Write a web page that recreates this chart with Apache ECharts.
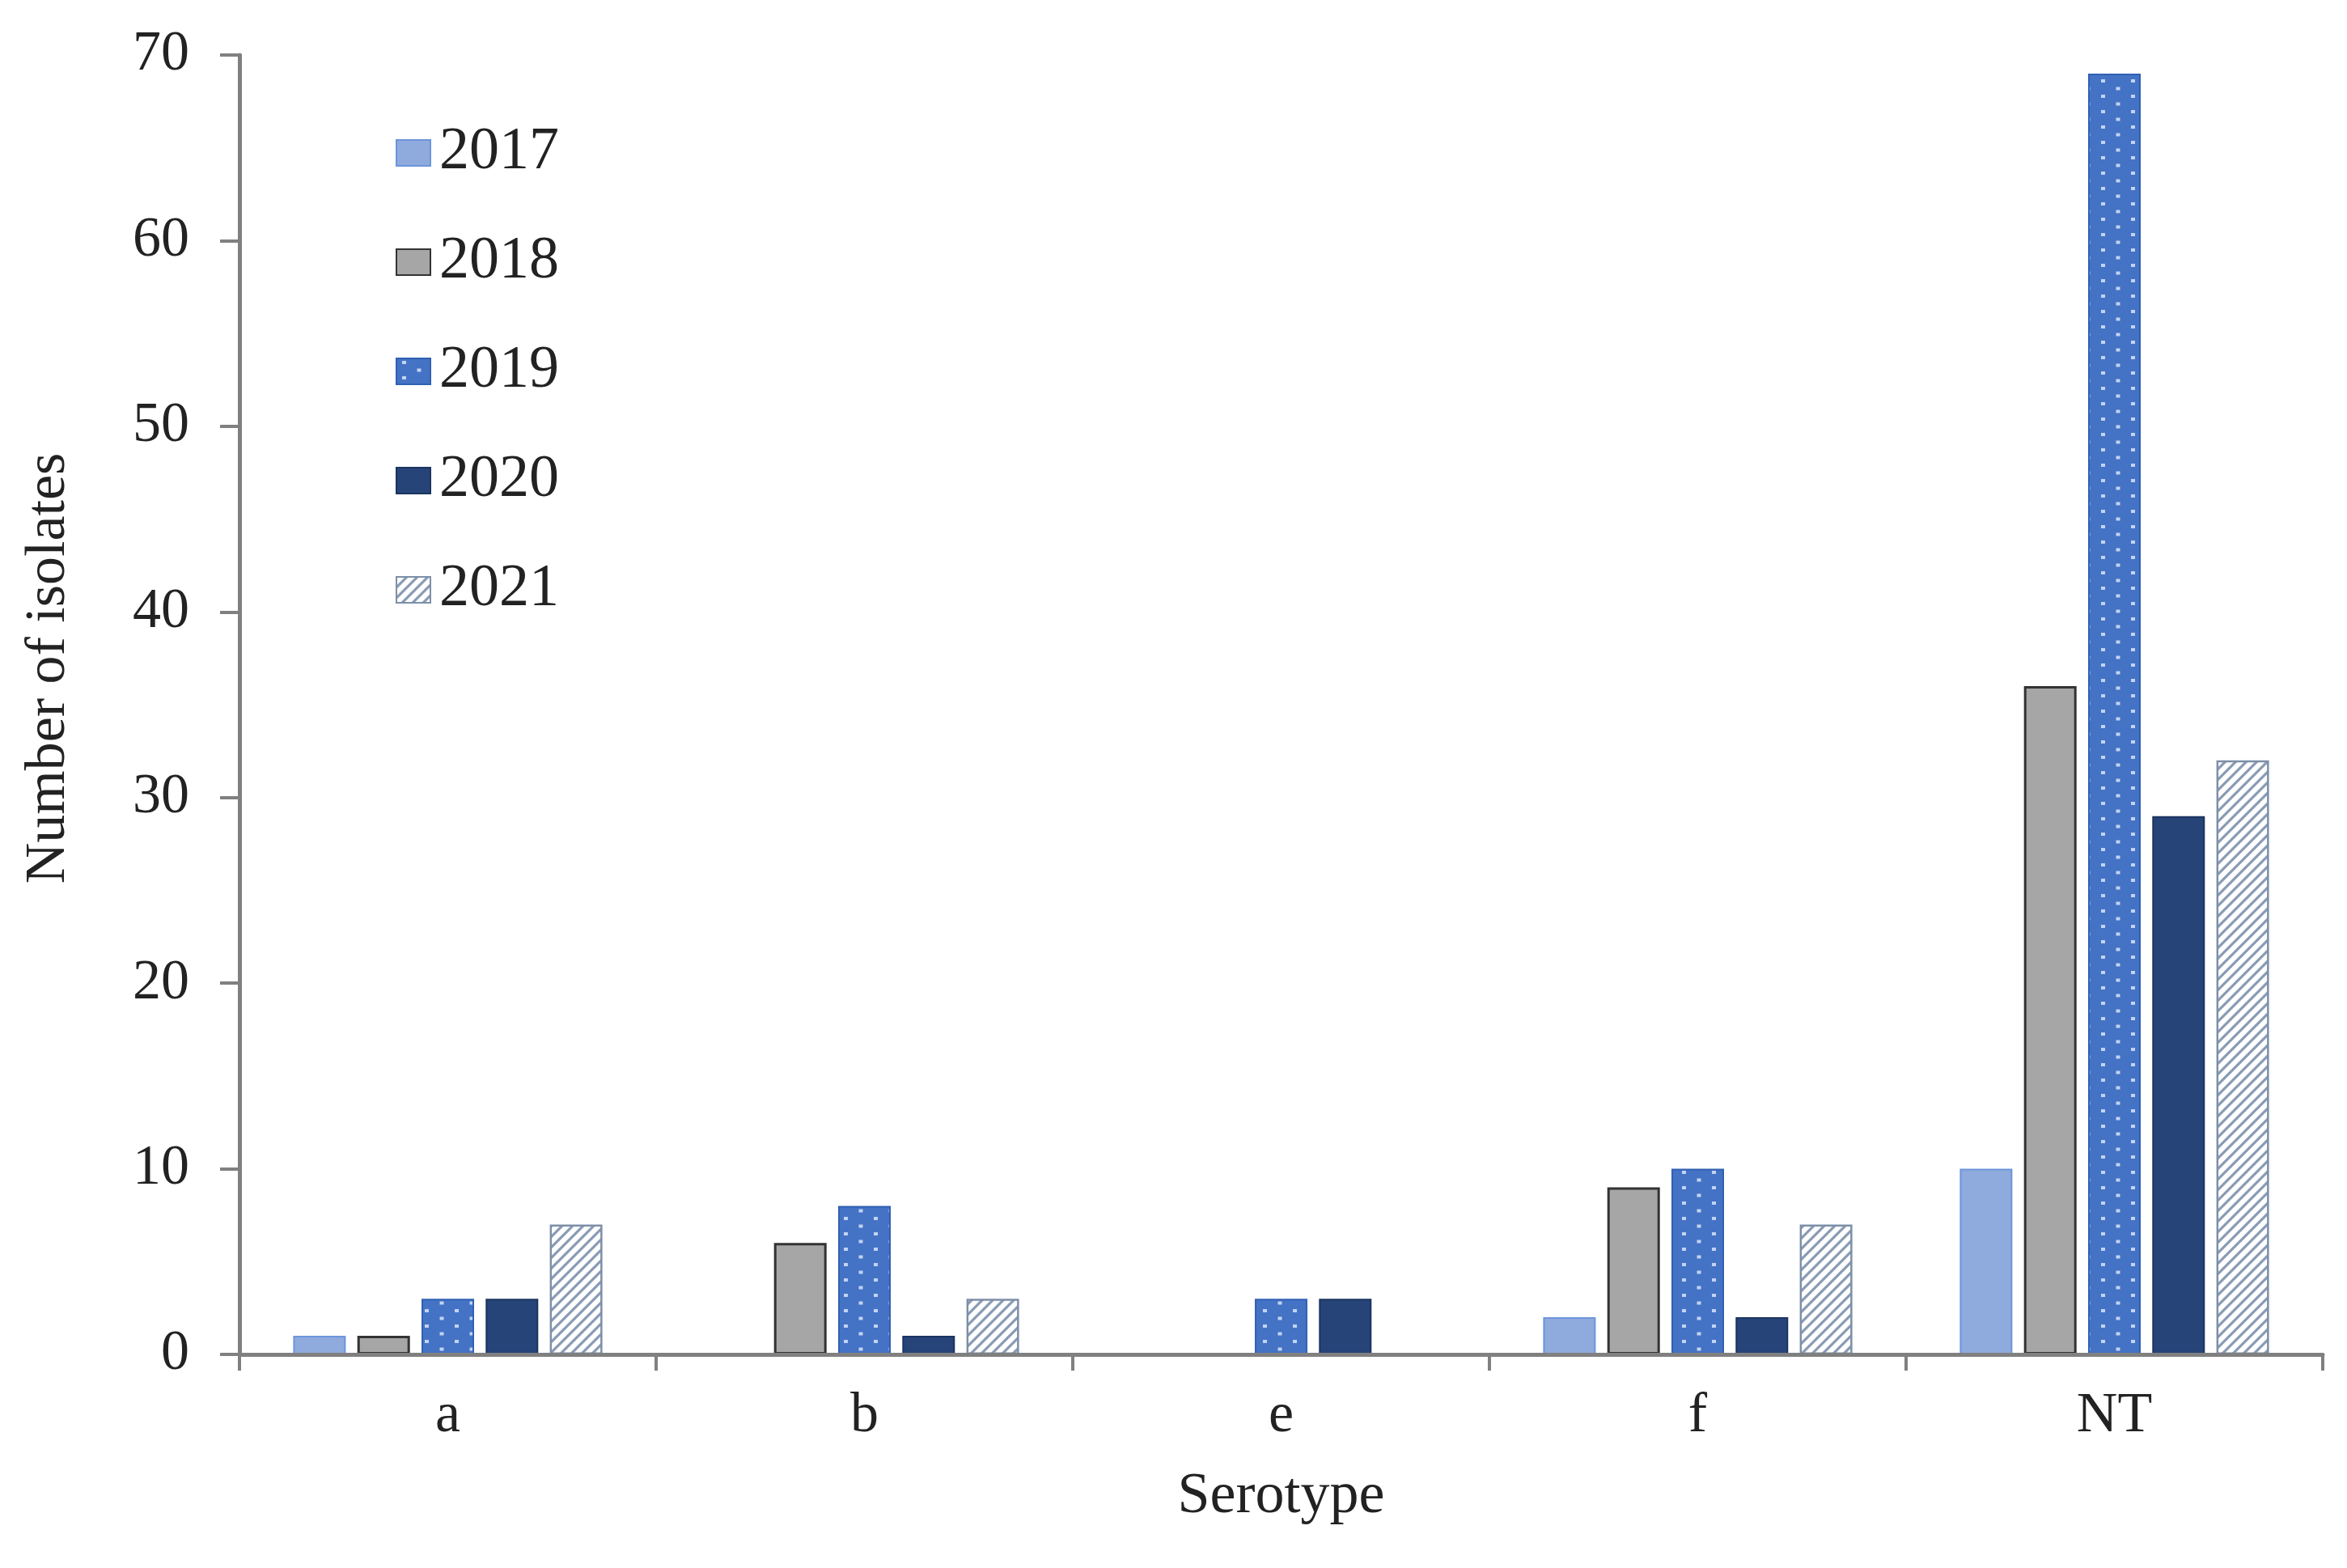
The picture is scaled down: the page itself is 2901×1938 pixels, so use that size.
<!DOCTYPE html>
<html>
<head>
<meta charset="utf-8">
<script src="https://cdn.jsdelivr.net/npm/echarts@6/dist/echarts.min.js"></script>
<style>
html,body{margin:0;padding:0;background:#fff;}
#main{width:2901px;height:1938px;}
</style>
</head>
<body>
<div id="main"></div>
<script>
const categories = ['a', 'b', 'e', 'f', 'NT'];
const years = ['2017', '2018', '2019', '2020', '2021'];
const v2017 = [1, 0, 0, 2, 10];
const v2018 = [1, 6, 0, 9, 36];
const v2019 = [3, 8, 3, 10, 69];
const v2020 = [3, 1, 3, 2, 29];
const v2021 = [7, 3, 0, 7, 32];
const yTicks = [0, 10, 20, 30, 40, 50, 60, 70];

function dotPattern() {
  const c = document.createElement('canvas');
  c.width = 37; c.height = 19;
  const g = c.getContext('2d');
  g.fillStyle = '#4472c4';
  g.fillRect(0, 0, 37, 19);
  g.fillStyle = 'rgba(225,235,255,0.8)';
  g.fillRect(7, 3, 5, 4);
  g.fillRect(25.5, 12.5, 5, 4);
  return c;
}
function hatchPattern() {
  const c = document.createElement('canvas');
  const s = 13;
  c.width = s; c.height = s;
  const g = c.getContext('2d');
  g.fillStyle = '#ffffff';
  g.fillRect(0, 0, s, s);
  g.strokeStyle = '#8a9bb4';
  g.lineWidth = 3.2;
  g.beginPath();
  g.moveTo(-2, s + 2); g.lineTo(s + 2, -2);
  g.moveTo(-s / 2 - 2, s / 2 + 2); g.lineTo(s / 2 + 2, -s / 2 - 2);
  g.moveTo(s / 2 - 2, s * 1.5 + 2); g.lineTo(s * 1.5 + 2, s / 2 - 2);
  g.stroke();
  return c;
}

const styles = [
  { color: '#8faadc', borderColor: '#6d95dc', borderWidth: 2 },
  { color: '#a6a6a6', borderColor: '#333333', borderWidth: 3 },
  { color: { image: dotPattern(), repeat: 'repeat' }, borderColor: '#3161b3', borderWidth: 2 },
  { color: '#264478', borderColor: '#1c3460', borderWidth: 2 },
  { color: { image: hatchPattern(), repeat: 'repeat' }, borderColor: '#7d8fa8', borderWidth: 2.5 }
];
const allValues = [v2017, v2018, v2019, v2020, v2021];

const fontFam = '"Liberation Serif", "DejaVu Serif", serif';

const series = years.map((y, i) => ({
  name: y,
  type: 'bar',
  barWidth: 65,
  barGap: '22%',
  itemStyle: styles[i],
  data: allValues[i].map(v => v === 0 ? { value: 0, itemStyle: { borderWidth: 0 } } : v)
}));

const chart = echarts.init(document.getElementById('main'), null, { renderer: 'canvas' });
chart.setOption({
  backgroundColor: '#ffffff',
  animation: false,
  grid: { left: 296, right: 30, top: 68, bottom: 264, containLabel: false },
  legend: {
    orient: 'vertical',
    left: 484,
    top: 147,
    itemWidth: 42,
    itemHeight: 32,
    itemGap: 61,
    icon: 'rect',
    textStyle: { fontFamily: fontFam, fontSize: 74, color: '#222', padding: [0, 0, 0, 6] },
    data: years
  },
  xAxis: {
    type: 'category',
    data: categories,
    z: 10,
    axisLine: { lineStyle: { color: '#808080', width: 5 } },
    axisTick: { show: true, length: 20, interval: 0, lineStyle: { color: '#808080', width: 4 } },
    axisLabel: { fontFamily: fontFam, fontSize: 70, color: '#222', margin: 42 },
    name: 'Serotype',
    nameLocation: 'middle',
    nameGap: 140,
    nameTextStyle: { fontFamily: fontFam, fontSize: 72, color: '#222' }
  },
  yAxis: {
    type: 'value',
    min: 0,
    max: 70,
    interval: 10,
    z: 10,
    splitLine: { show: false },
    axisLine: { show: true, lineStyle: { color: '#808080', width: 5 } },
    axisTick: { show: true, length: 24, lineStyle: { color: '#808080', width: 4 } },
    axisLabel: {
      fontFamily: fontFam, fontSize: 70, color: '#222', margin: 62,
      formatter: v => (yTicks.indexOf(v) >= 0 ? String(v) : '')
    }
  },
  graphic: [{
    type: 'text',
    x: 61,
    y: 826,
    rotation: Math.PI / 2,
    style: {
      text: 'Number of isolates',
      fontFamily: fontFam,
      fontSize: 70,
      fill: '#222',
      align: 'center',
      verticalAlign: 'middle'
    }
  }],
  series: series
});
</script>
</body>
</html>
